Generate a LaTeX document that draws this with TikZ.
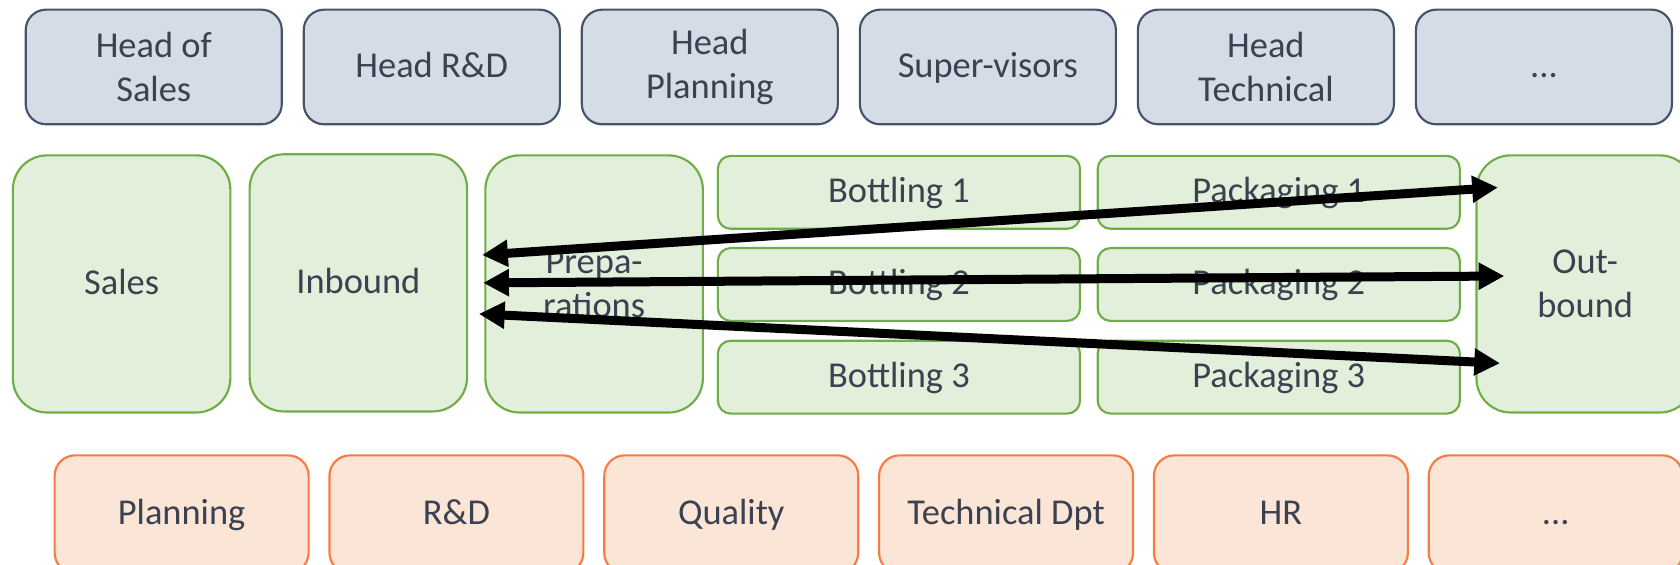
\documentclass[tikz,border=0pt]{standalone}
\usepackage{fontspec}
\setmainfont{Carlito}
\usetikzlibrary{arrows.meta}
\definecolor{topfill}{HTML}{D6DCE5}
\definecolor{topdraw}{HTML}{44546A}
\definecolor{midfill}{HTML}{E2EFDA}
\definecolor{middraw}{HTML}{70AD47}
\definecolor{botfill}{HTML}{FBE5D6}
\definecolor{botdraw}{HTML}{FA7B3F}
\definecolor{txt}{HTML}{3B4150}
\newcommand{\oneline}[1]{\raisebox{0pt}[0.62em][0.06em]{#1}}
\tikzset{
  box/.style={draw, line width=1pt, align=center, text=txt, inner sep=0pt,
    font=\fontsize{17pt}{20.7pt}\selectfont},
  topbox/.style={box, fill=topfill, draw=topdraw, rounded corners=9.5pt,
    minimum width=119.5pt, minimum height=53.5pt},
  tallbox/.style={box, fill=midfill, draw=middraw, rounded corners=16pt,
    minimum width=101.5pt, minimum height=120pt},
  smallbox/.style={box, fill=midfill, draw=middraw, rounded corners=6pt,
    minimum width=169pt, minimum height=34pt},
  botbox/.style={box, fill=botfill, draw=botdraw, rounded corners=9.5pt,
    minimum width=118.5pt, minimum height=55pt},
  arr/.style={line width=4.2pt, black, {Triangle[length=12pt,width=12pt]}-{Triangle[length=12pt,width=12pt]}}
}
\begin{document}
\begin{tikzpicture}[x=0.5pt,y=-0.5pt]
\useasboundingbox (0,0) rectangle (1568,527);
\clip (0,0) rectangle (1568,527);
% top row
\node[topbox] (h1) at (143.5,62.5) {Head of\\Sales};
\node[topbox] (h2) at (403,62.5) {\oneline{Head R\&D}};
\node[topbox] (h3) at (662.5,62.5) {Head\\Planning};
\node[topbox] (h4) at (922,62.5) {\oneline{Super-visors}};
\node[topbox] (h5) at (1181.5,62.5) {Head\\Technical};
\node[topbox] (h6) at (1441,62.5) {\oneline{...}};
% middle row
\node[tallbox] (sales) at (113.5,265) {\oneline{Sales}};
\node[tallbox] (inb) at (334.5,264) {\oneline{Inbound}};
\node[tallbox] (prep) at (554.5,265) {Prepa-\\rations};
\node[smallbox] (b1) at (839,179.5) {\oneline{Bottling 1}};
\node[smallbox] (b2) at (839,265.5) {\oneline{Bottling 2}};
\node[smallbox] (b3) at (839,352) {\oneline{Bottling 3}};
\node[smallbox] (p1) at (1193.5,179.5) {\oneline{Packaging 1}};
\node[smallbox] (p2) at (1193.5,265.5) {\oneline{Packaging 2}};
\node[smallbox] (p3) at (1193.5,352) {\oneline{Packaging 3}};
\node[tallbox] (outb) at (1479.5,265) {Out-\\bound};
% bottom row
\node[botbox] (s1) at (169.5,480) {\oneline{Planning}};
\node[botbox] (s2) at (426,480) {\oneline{R\&D}};
\node[botbox] (s3) at (682.5,480) {\oneline{Quality}};
\node[botbox] (s4) at (939,480) {\oneline{Technical Dpt}};
\node[botbox] (s5) at (1195.5,480) {\oneline{HR}};
\node[botbox] (s6) at (1452,480) {\oneline{...}};
% arrows
\draw[arr] ([xshift=-1pt,yshift=13.5pt]prep.west) -- ([xshift=10.5pt,yshift=45pt]outb.west);
\draw[arr] ([xshift=-0.5pt,yshift=0.5pt]prep.west) -- ([xshift=13.5pt,yshift=3.7pt]outb.west);
\draw[arr] ([xshift=-2.5pt,yshift=-14pt]prep.west) -- ([xshift=11.5pt,yshift=-37pt]outb.west);
\end{tikzpicture}
\end{document}
